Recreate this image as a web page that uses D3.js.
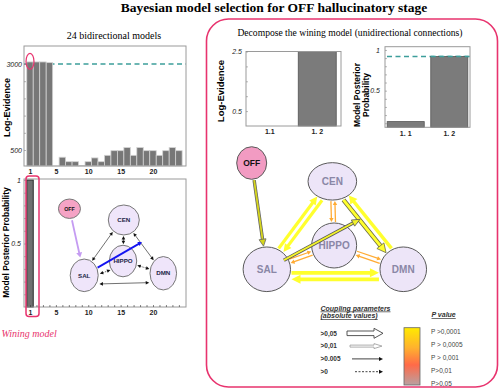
<!DOCTYPE html>
<html>
<head>
<meta charset="utf-8">
<script src="https://cdn.jsdelivr.net/npm/d3@7"></script>
<style>
body { margin: 0; background: #fff; }
</style>
</head>
<body>
<div id="chart"></div>
<script>
// ---- data ----
var models = [1,2,3,4,5,6,7,8,9,10,11,12,13,14,15,16,17,18,19,20,21,22,23,24];
var logEvidence = [3060,3060,3060,3040,35,290,160,160,45,160,270,160,345,480,480,570,345,570,480,480,345,480,570,480];
var posterior = [1,0,0,0,0,0,0,0,0,0,0,0,0,0,0,0,0,0,0,0,0,0,0,0];
var modelTicks = [1,5,10,15,20];
var evidenceTicks = [500,1000,1500,2000,2500,3000];
var evidenceLabels = [500,3000];
var evidenceRef = 3000;
var probTicks = [0.1,0.2,0.3,0.4,0.5,0.6,0.7,0.8,0.9,1];
var probLabels = [0.5,1];

var subModels = ["1.1","1. 2"];
var subModelLabels = ["1.1","1. 2"];
var subPostLabels = ["1. 1","1. 2"];
var subLogEvidence = [0, 2.5];
var subPosterior = [0.12, 0.92];
var subEvidenceTicks = [0.5,1,1.5,2,2.5];
var subEvidenceLabels = [0.5,2.5];
var subProbRef = 0.92;

var nodeNames = ["OFF","CEN","HIPPO","SAL","DMN"];

var couplingLabels = [">0,05", ">0,01", ">0.005", ">0"];
var pLabels = ["P >0,0001", "P > 0,0005", "P > 0,001", "P>0,01", "P>0,05"];

var pink = "#e8336e";
var teal = "#3d9e9b";

var width = 500, height = 391;

var svg = d3.select("#chart")
    .append("svg")
    .attr("width", width)
    .attr("height", height)
    .style("font-family", "'Liberation Sans', Arial, sans-serif");

// titles
svg.append("text")
    .attr("x", 274).attr("y", 12)
    .attr("text-anchor", "middle")
    .style("font-family", "'Liberation Serif', 'Times New Roman', serif")
    .style("font-weight", "bold").style("font-size", "13.5px")
    .text("Bayesian model selection for OFF hallucinatory stage");

svg.append("text")
    .attr("x", 114).attr("y", 38.5)
    .attr("text-anchor", "middle")
    .style("font-family", "'Liberation Serif', 'Times New Roman', serif")
    .style("font-size", "10px")
    .text("24 bidirectional models");

svg.append("text")
    .attr("x", 350).attr("y", 35.5)
    .attr("text-anchor", "middle")
    .style("font-family", "'Liberation Serif', 'Times New Roman', serif")
    .style("font-size", "9.6px")
    .text("Decompose the wining model (unidirectional connections)");

// small helpers
function styleAxis(g, size, italic, bold) {
    g.select(".domain").remove();
    g.selectAll(".tick line").attr("stroke", "#888").attr("stroke-width", 0.6);
    g.selectAll(".tick text")
        .style("font-size", size + "px")
        .style("font-style", italic ? "italic" : "normal")
        .style("font-weight", bold ? "bold" : "normal")
        .attr("fill", "#222");
}
function frame(x, y, w, h) {
    svg.append("rect").attr("x", x).attr("y", y).attr("width", w).attr("height", h)
        .attr("fill", "none").attr("stroke", "#9a9a9a").attr("stroke-width", 1);
}
function yLabel(x, y, txt, size) {
    svg.append("text")
        .attr("transform", "translate(" + x + "," + y + ") rotate(-90)")
        .attr("text-anchor", "middle")
        .style("font-weight", "bold").style("font-size", size + "px")
        .text(txt);
}

/*
    Top left: log-evidence of the 24 models
*/
var xA = d3.scaleLinear().domain([1, 20]).range([30, 153]);
var barW = xA(2) - xA(1);
var yA = d3.scaleLinear().domain([500, 3000]).range([150, 64]);
var aBottom = 166;

svg.append("line")
    .attr("x1", 24).attr("x2", 186)
    .attr("y1", yA(evidenceRef)).attr("y2", yA(evidenceRef))
    .attr("stroke", teal).attr("stroke-width", 1.6).attr("stroke-dasharray", "5,3.5");

svg.append("g").selectAll("rect")
    .data(models)
    .enter().append("rect")
    .attr("x", function (d) { return xA(d) - barW / 2; })
    .attr("width", barW)
    .attr("y", function (d, i) { return yA(logEvidence[i]); })
    .attr("height", function (d, i) { return aBottom - yA(logEvidence[i]); })
    .attr("fill", "#777").attr("stroke", "#d2d2d2").attr("stroke-width", 0.8);

frame(24, 46, 162, 120);

svg.append("g").attr("transform", "translate(0," + aBottom + ")")
    .call(d3.axisBottom(xA).tickValues(modelTicks).tickSize(0).tickPadding(3))
    .call(function (g) { styleAxis(g, 7, false, true); });

svg.append("g").attr("transform", "translate(24,0)")
    .call(d3.axisLeft(yA).tickValues(evidenceTicks).tickSize(-2).tickPadding(2)
        .tickFormat(function (d) { return evidenceLabels.indexOf(d) >= 0 ? d : ""; }))
    .call(function (g) { styleAxis(g, 7, true, false); });

svg.append("ellipse")
    .attr("cx", xA(1)).attr("cy", yA(logEvidence[0]) - 0.5)
    .attr("rx", 4).attr("ry", 8)
    .attr("fill", "none").attr("stroke", pink).attr("stroke-width", 1.2);

yLabel(9.5, 107.5, "Log-Evidence", 9);

/*
    Bottom left: posterior probability of the 24 models
*/
var yB = d3.scaleLinear().domain([0, 1]).range([307, 180]);

svg.append("g").selectAll("rect")
    .data(models)
    .enter().append("rect")
    .attr("x", function (d) { return xA(d) - barW / 2; })
    .attr("width", barW)
    .attr("y", function (d, i) { return yB(posterior[i]); })
    .attr("height", function (d, i) { return yB(0) - yB(posterior[i]); })
    .attr("fill", "#707070").attr("stroke", "#2a2a2a").attr("stroke-width", 1);

frame(24, 179, 162, 128);

svg.append("g").attr("transform", "translate(0,307)")
    .call(d3.axisBottom(xA).tickValues(models).tickSize(-2).tickPadding(3)
        .tickFormat(function (d) { return modelTicks.indexOf(d) >= 0 ? d : ""; }))
    .call(function (g) { styleAxis(g, 7, false, true); g.selectAll(".tick line").attr("stroke", "#333"); });

svg.append("g").attr("transform", "translate(24,0)")
    .call(d3.axisLeft(yB).tickValues(probTicks).tickSize(-2).tickPadding(3)
        .tickFormat(function (d) { return probLabels.indexOf(d) >= 0 ? d : ""; }))
    .call(function (g) { styleAxis(g, 7, true, false); });

svg.append("rect")
    .attr("x", xA(1) - 4).attr("y", 176)
    .attr("width", 13).attr("height", 140.5).attr("rx", 3)
    .attr("fill", "none").attr("stroke", pink).attr("stroke-width", 1.5);

yLabel(9, 242.5, "Model Posterior Probability", 8.5);

svg.append("text")
    .attr("x", 1.5).attr("y", 337)
    .style("font-family", "'Liberation Serif', 'Times New Roman', serif")
    .style("font-style", "italic").style("font-size", "10px")
    .attr("fill", pink)
    .text("Wining model");

/*
    Network diagrams: node layouts in 0..100 units mapped by scales
*/
var smallLayout = [
    { x: 8.6, y: 9.7, rx: 11, ry: 9.7 },
    { x: 58, y: 22.2, rx: 15.5, ry: 15 },
    { x: 57.3, y: 67.8, rx: 13.7, ry: 15.8 },
    { x: 22, y: 83.7, rx: 14, ry: 16.3 },
    { x: 93.9, y: 81.4, rx: 13.3, ry: 16.7 }
];
var smallTarget = { x: 74.5, y: 46.7 };

var bigLayout = [
    { x: 6.5, y: 9.3, rx: 15, ry: 16.3 },
    { x: 51.3, y: 22.4, rx: 24.3, ry: 18.7 },
    { x: 52.3, y: 68.2, rx: 22.5, ry: 22.5 },
    { x: 14.9, y: 85.2, rx: 23.7, ry: 22.3 },
    { x: 90.7, y: 85.2, rx: 23.3, ry: 22.3 }
];
var bigTarget = { x: 66.7, y: 49.5 };

var sx1 = d3.scaleLinear().domain([0, 100]).range([60, 170]);
var sy1 = d3.scaleLinear().domain([0, 100]).range([200, 290]);
var sx2 = d3.scaleLinear().domain([0, 100]).range([240, 420]);
var sy2 = d3.scaleLinear().domain([0, 100]).range([150, 290]);

function placeNodes(layout, sx, sy) {
    return layout.map(function (n, i) {
        return { name: nodeNames[i], cx: sx(n.x), cy: sy(n.y), rx: n.rx, ry: n.ry };
    });
}
var smallNodes = placeNodes(smallLayout, sx1, sy1);
var bigNodes = placeNodes(bigLayout, sx2, sy2);
function node(list, name) { return list[nodeNames.indexOf(name)]; }

// endpoints between two ellipses, shifted sideways by off
function between(a, b, off, gap) {
    gap = gap || 1;
    var dx = b.cx - a.cx, dy = b.cy - a.cy, len = Math.hypot(dx, dy);
    var ux = dx / len, uy = dy / len, px = -uy, py = ux;
    var ta = 1 / Math.sqrt(Math.pow(ux / a.rx, 2) + Math.pow(uy / a.ry, 2)) + gap;
    var tb = b.rx ? 1 / Math.sqrt(Math.pow(ux / b.rx, 2) + Math.pow(uy / b.ry, 2)) + gap : 0;
    return [a.cx + ux * ta + px * off, a.cy + uy * ta + py * off,
            b.cx - ux * tb + px * off, b.cy - uy * tb + py * off];
}

function arrow(g, p, o) {
    var x1 = p[0], y1 = p[1], x2 = p[2], y2 = p[3];
    var dx = x2 - x1, dy = y2 - y1, len = Math.hypot(dx, dy);
    var ux = dx / len, uy = dy / len, px = -uy, py = ux;
    var L = o.L || 5, W = o.W || 3;
    var sx = x1, sy = y1, ex = x2, ey = y2;
    if (o.end) { ex = x2 - ux * L * 0.8; ey = y2 - uy * L * 0.8; }
    if (o.start) { sx = x1 + ux * L * 0.8; sy = y1 + uy * L * 0.8; }
    if (o.outline) {
        g.append("line").attr("x1", sx).attr("y1", sy).attr("x2", ex).attr("y2", ey)
            .attr("stroke", o.outline).attr("stroke-width", o.w + 1.6)
            .attr("stroke-dasharray", o.dash || null);
    }
    g.append("line").attr("x1", sx).attr("y1", sy).attr("x2", ex).attr("y2", ey)
        .attr("stroke", o.color).attr("stroke-width", o.w)
        .attr("stroke-dasharray", o.outline ? null : (o.dash || null));
    function head(tx, ty, dx2, dy2) {
        var bx = tx - dx2 * L, by = ty - dy2 * L;
        var pts = [[tx, ty], [bx + px * W, by + py * W], [bx - px * W, by - py * W]];
        g.append("path").attr("d", d3.line()(pts) + "Z")
            .attr("fill", o.head || o.color)
            .attr("stroke", o.outline || "none").attr("stroke-width", 0.8);
    }
    if (o.end) head(x2, y2, ux, uy);
    if (o.start) head(x1, y1, -ux, -uy);
}

function drawNodes(g, list, fill, offFill, stroke, textFill, size, weight) {
    var ng = g.selectAll(".node").data(list).enter().append("g").attr("class", "node");
    ng.append("ellipse")
        .attr("cx", function (d) { return d.cx; }).attr("cy", function (d) { return d.cy; })
        .attr("rx", function (d) { return d.rx; }).attr("ry", function (d) { return d.ry; })
        .attr("fill", function (d) { return d.name === "OFF" ? offFill : fill; })
        .attr("stroke", stroke).attr("stroke-width", 1);
    ng.append("text")
        .attr("x", function (d) { return d.cx; }).attr("y", function (d) { return d.cy; })
        .attr("dy", "0.35em").attr("text-anchor", "middle")
        .style("font-weight", "bold")
        .style("font-size", function (d) { return d.name === "OFF" ? (size * 0.85) + "px" : size + "px"; })
        .attr("fill", function (d) { return d.name === "OFF" ? "#111" : textFill; })
        .text(function (d) { return d.name; });
}

// small network inside the posterior plot
var g1 = svg.append("g");
drawNodes(g1, smallNodes, "#efe5fa", "#f5a3c5", "#777", "#1d2547", 6.2);
var S = function (n) { return node(smallNodes, n); };
var thin = { color: "#111", w: 0.6, L: 3.5, W: 1.8, end: true, start: true };
arrow(g1, between(S("SAL"), S("CEN"), -2), thin);
arrow(g1, between(S("CEN"), S("HIPPO"), 0), thin);
arrow(g1, between(S("CEN"), S("DMN"), 0), thin);
arrow(g1, between(S("SAL"), S("DMN"), 9), thin);
arrow(g1, between(S("SAL"), S("HIPPO"), 4), Object.assign({}, thin, { dash: "1.5,1" }));
arrow(g1, between(S("HIPPO"), S("DMN"), 0), Object.assign({}, thin, { dash: "1.5,1" }));
arrow(g1, between(S("OFF"), S("SAL"), 0, 2), { color: "#c59cf2", w: 1.8, L: 5, W: 3, end: true });
arrow(g1, between(S("SAL"), { cx: sx1(smallTarget.x), cy: sy1(smallTarget.y) }, 0), { color: "#1414f0", w: 1.8, L: 4, W: 2.4, end: true });

// decomposed network
var g2 = svg.append("g");
drawNodes(g2, bigNodes, "#ede5f8", "#f29bc2", "#5a5a5a", "#8a87a6", 10);
var B = function (n) { return node(bigNodes, n); };
var yellow = "#ffff2e", orange = "#ffab33";
arrow(g2, between(B("OFF"), B("SAL"), 0), { color: "#d6d61c", w: 1.8, L: 7, W: 3.5, end: true, outline: "#666" });
arrow(g2, between(B("SAL"), B("CEN"), -3), { color: yellow, w: 3.2, L: 8, W: 4, end: true });
arrow(g2, between(B("CEN"), B("SAL"), -3), { color: yellow, w: 3.2, L: 8, W: 4, end: true });
arrow(g2, between(B("CEN"), B("DMN"), 3), { color: yellow, w: 3, L: 9, W: 4.5, end: true, outline: "#6b6b40" });
arrow(g2, between(B("DMN"), B("CEN"), 4), { color: yellow, w: 3.5, L: 8, W: 4.5, end: true });
arrow(g2, between(B("SAL"), B("DMN"), 3.5), { color: yellow, w: 3.8, L: 9, W: 4.5, end: true });
arrow(g2, between(B("DMN"), B("SAL"), -10), { color: yellow, w: 3.8, L: 9, W: 4.5, end: true });
arrow(g2, between(B("CEN"), B("HIPPO"), 2), { color: orange, w: 1.3, L: 4, W: 2.2, end: true });
arrow(g2, between(B("HIPPO"), B("CEN"), 2), { color: orange, w: 1.3, L: 4, W: 2.2, end: true });
arrow(g2, between(B("SAL"), B("HIPPO"), -2), { color: orange, w: 1.3, L: 4, W: 2.2, end: true });
arrow(g2, between(B("HIPPO"), B("SAL"), -2), { color: orange, w: 1.3, L: 4, W: 2.2, end: true });
arrow(g2, between(B("HIPPO"), B("DMN"), -2), { color: orange, w: 1.3, L: 4, W: 2.2, end: true });
arrow(g2, between(B("DMN"), B("HIPPO"), -2), { color: orange, w: 1.3, L: 4, W: 2.2, end: true });
arrow(g2, between(B("SAL"), { cx: sx2(bigTarget.x), cy: sy2(bigTarget.y) }, 0, -4),
    { color: "#f2f22a", w: 1.8, L: 8, W: 3.5, end: true, outline: "#555" });

/*
    Top right: decomposed log-evidence
*/
var xC = d3.scaleBand().domain(subModels).range([246, 341]).paddingInner(0.2).paddingOuter(0.1);
var yC = d3.scaleLinear().domain([0, 2.5]).range([126, 51.5]);

svg.append("g").selectAll("rect")
    .data(subModels)
    .enter().append("rect")
    .attr("x", function (d) { return xC(d); })
    .attr("width", xC.bandwidth())
    .attr("y", function (d, i) { return yC(subLogEvidence[i]); })
    .attr("height", function (d, i) { return yC(0) - yC(subLogEvidence[i]); })
    .attr("fill", "#7b7b7b").attr("stroke", "#555").attr("stroke-width", 0.8);

frame(246, 51.5, 95, 74.5);

svg.append("g").attr("transform", "translate(0,126)")
    .call(d3.axisBottom(xC).tickSize(0).tickPadding(3)
        .tickFormat(function (d, i) { return subModelLabels[i]; }))
    .call(function (g) { styleAxis(g, 7, false, true); });

svg.append("g").attr("transform", "translate(246,0)")
    .call(d3.axisLeft(yC).tickValues(subEvidenceTicks).tickSize(-2).tickPadding(4)
        .tickFormat(function (d) { return subEvidenceLabels.indexOf(d) >= 0 ? d : ""; }))
    .call(function (g) { styleAxis(g, 7, true, false); });

yLabel(223.5, 91, "Log-Evidence", 9.5);

/*
    Top right: decomposed posterior probability
*/
var xD = d3.scaleBand().domain(subModels).range([385, 470]).paddingInner(0.15).paddingOuter(0.05);
var yD = d3.scaleLinear().domain([0.05, 1.04]).range([127.3, 46.7]);

svg.append("line")
    .attr("x1", 387).attr("x2", 470)
    .attr("y1", yD(subProbRef)).attr("y2", yD(subProbRef))
    .attr("stroke", teal).attr("stroke-width", 1.6).attr("stroke-dasharray", "5,3.5");

svg.append("g").selectAll("rect")
    .data(subModels)
    .enter().append("rect")
    .attr("x", function (d) { return xD(d); })
    .attr("width", xD.bandwidth())
    .attr("y", function (d, i) { return yD(subPosterior[i]); })
    .attr("height", function (d, i) { return 127.3 - yD(subPosterior[i]); })
    .attr("fill", "#7b7b7b").attr("stroke", "#555").attr("stroke-width", 0.8);

// redraw dash on top of the tall bar, as in the picture
svg.append("line")
    .attr("x1", xD(subModels[1])).attr("x2", 470)
    .attr("y1", yD(subProbRef)).attr("y2", yD(subProbRef))
    .attr("stroke", teal).attr("stroke-width", 1.6).attr("stroke-dasharray", "5,3.5");

frame(385, 46.7, 85, 80.6);

svg.append("g").attr("transform", "translate(0,127.3)")
    .call(d3.axisBottom(xD).tickSize(0).tickPadding(4)
        .tickFormat(function (d, i) { return subPostLabels[i]; }))
    .call(function (g) { styleAxis(g, 7, false, true); });

svg.append("g").attr("transform", "translate(385,0)")
    .call(d3.axisLeft(yD).tickValues(probTicks).tickSize(-2).tickPadding(5)
        .tickFormat(function (d) { return probLabels.indexOf(d) >= 0 ? d : ""; }))
    .call(function (g) { styleAxis(g, 7, true, false); });

svg.append("text")
    .attr("transform", "translate(359.5,95) rotate(-90)")
    .attr("text-anchor", "middle")
    .style("font-weight", "bold").style("font-size", "8.5px")
    .selectAll("tspan").data(["Model Posterior", "Probability"])
    .enter().append("tspan")
    .attr("x", 0).attr("dy", function (d, i) { return i ? 9.5 : 0; })
    .text(function (d) { return d; });

/*
    Legend
*/
var leg = svg.append("g").attr("fill", "#333");
leg.append("text").attr("x", 320.5).attr("y", 310.5)
    .style("font-size", "7px").style("font-weight", "bold").style("font-style", "italic")
    .style("text-decoration", "underline").text("Coupling parameters");
leg.append("text").attr("x", 320.5).attr("y", 318.3)
    .style("font-size", "7px").style("font-weight", "bold").style("font-style", "italic")
    .style("text-decoration", "underline").text("(absolute values)");
leg.append("text").attr("x", 431.5).attr("y", 317.3)
    .style("font-size", "7px").style("font-weight", "bold").style("font-style", "italic")
    .style("text-decoration", "underline").text("P value");

var rowY = d3.scalePoint().domain(couplingLabels).range([333.3, 371.7]);
leg.selectAll(".cl").data(couplingLabels).enter().append("text")
    .attr("x", 320.5).attr("y", function (d) { return rowY(d); }).attr("dy", "0.35em")
    .style("font-size", "6.5px").style("font-weight", "bold")
    .text(function (d) { return d; });

function blockArrow(x1, x2, y, hs, hh, hl, stroke, sw) {
    var pts = [[x1, y - hs], [x2 - hl, y - hs], [x2 - hl, y - hh], [x2, y], [x2 - hl, y + hh], [x2 - hl, y + hs], [x1, y + hs]];
    leg.append("path").attr("d", d3.line()(pts) + "Z")
        .attr("fill", "#fff").attr("stroke", stroke).attr("stroke-width", sw);
}
blockArrow(347, 383, rowY(couplingLabels[0]), 2.3, 5, 9, "#444", 0.9);
blockArrow(350, 382, rowY(couplingLabels[1]), 1, 2.5, 8, "#999", 0.8);
arrow(leg, [352, rowY(couplingLabels[2]), 383, rowY(couplingLabels[2])], { color: "#111", w: 0.8, L: 4, W: 2, end: true });
arrow(leg, [355, rowY(couplingLabels[3]), 383, rowY(couplingLabels[3])], { color: "#111", w: 0.8, L: 4, W: 2, end: true, dash: "2,1.5" });

var grad = svg.append("defs").append("linearGradient")
    .attr("id", "pgrad").attr("x1", 0).attr("y1", 0).attr("x2", 0).attr("y2", 1);
grad.selectAll("stop")
    .data([["0%", "#ffea00"], ["35%", "#ffb22e"], ["65%", "#ff6a48"], ["100%", "#b9a0a2"]])
    .enter().append("stop")
    .attr("offset", function (d) { return d[0]; })
    .attr("stop-color", function (d) { return d[1]; });

svg.append("rect").attr("x", 404).attr("y", 327.7).attr("width", 16).attr("height", 57.3)
    .attr("fill", "url(#pgrad)").attr("stroke", "#666").attr("stroke-width", 0.8);

var pY = d3.scalePoint().domain(pLabels).range([331.7, 383.3]);
leg.selectAll(".pl").data(pLabels).enter().append("text")
    .attr("x", 431).attr("y", function (d) { return pY(d); }).attr("dy", "0.35em")
    .style("font-size", "6.5px").attr("fill", "#444")
    .text(function (d) { return d; });

// rounded pink box around the decomposition panel
svg.append("rect")
    .attr("x", 206.5).attr("y", 19).attr("width", 291).attr("height", 368).attr("rx", 22)
    .attr("fill", "none").attr("stroke", pink).attr("stroke-width", 1.6);
</script>
</body>
</html>
